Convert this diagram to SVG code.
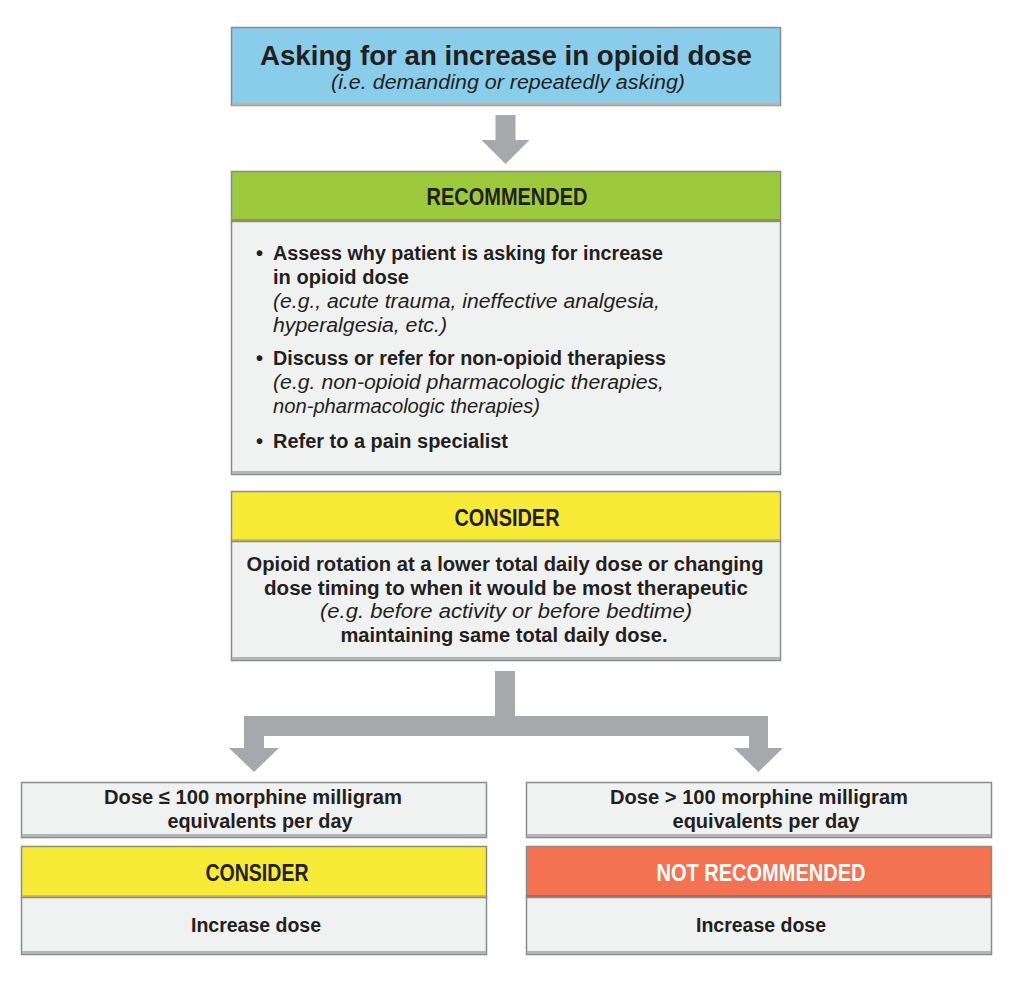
<svg xmlns="http://www.w3.org/2000/svg" width="1024" height="987" viewBox="0 0 1024 987">
<style>
.box{stroke:#8a8b8d;stroke-width:1.5}
.body{fill:#f0f1f1}
.sh{stroke:#b3b4b6;stroke-width:3}
.t{font-family:"Liberation Sans",Arial,Helvetica,sans-serif;fill:#231f20}
.b{font-weight:bold;font-size:20px}
.i{font-style:italic;font-size:19.5px}
.h{font-family:"Liberation Sans Narrow","Liberation Sans",Arial,sans-serif;font-weight:bold;font-size:24px}
.c{text-anchor:middle}
.conn{fill:#a7a8ab}
</style>
<rect width="1024" height="987" fill="#ffffff"/>
<g id="connectors">
<polygon class="conn" points="495.5,115 515.5,115 515.5,140 529.5,140 505.5,164 481.5,140 495.5,140"/>
<polygon class="conn" points="495,671 515,671 515,716 768,716 768,748 783,748 758.5,772 734,748 749,748 749,736 264,736 264,748 279,748 254,772 229,748 244,748 244,716 495,716"/>
</g>
<g id="start">
<rect class="box" x="231.5" y="27.5" width="549" height="78" fill="#89cdeb"/>
<line class="sh" x1="232" y1="104" x2="780" y2="104" stroke="#7aa9bf"/>
<text class="t c" x="506" y="65" font-weight="bold" font-size="27.5" textLength="492" lengthAdjust="spacingAndGlyphs">Asking for an increase in opioid dose</text>
<text class="t c i" x="508" y="88.5" textLength="354" lengthAdjust="spacingAndGlyphs">(i.e. demanding or repeatedly asking)</text>
</g>
<g id="recommended">
<rect class="box" x="231.5" y="171.5" width="549" height="50" fill="#9dca3c"/>
<line x1="232" y1="220" x2="780" y2="220" stroke="#7fa32f" stroke-width="2"/>
<text class="t h c" x="507" y="205" textLength="161" lengthAdjust="spacingAndGlyphs">RECOMMENDED</text>
<rect class="box body" x="231.5" y="221.5" width="549" height="253"/>
<line class="sh" x1="232" y1="472.5" x2="780" y2="472.5"/>
<text class="t b" x="256" y="259.5">•</text>
<text class="t b" x="273" y="259.5" textLength="390" lengthAdjust="spacingAndGlyphs">Assess why patient is asking for increase</text>
<text class="t b" x="273" y="283.5" textLength="136" lengthAdjust="spacingAndGlyphs">in opioid dose</text>
<text class="t i" x="273" y="307.5" textLength="387" lengthAdjust="spacingAndGlyphs">(e.g., acute trauma, ineffective analgesia,</text>
<text class="t i" x="273" y="331.5" textLength="174" lengthAdjust="spacingAndGlyphs">hyperalgesia, etc.)</text>
<text class="t b" x="256" y="365">•</text>
<text class="t b" x="273" y="365" textLength="393" lengthAdjust="spacingAndGlyphs">Discuss or refer for non-opioid therapiess</text>
<text class="t i" x="273" y="389" textLength="391" lengthAdjust="spacingAndGlyphs">(e.g. non-opioid pharmacologic therapies,</text>
<text class="t i" x="273" y="413" textLength="267" lengthAdjust="spacingAndGlyphs">non-pharmacologic therapies)</text>
<text class="t b" x="256" y="447.5">•</text>
<text class="t b" x="273" y="447.5" textLength="235" lengthAdjust="spacingAndGlyphs">Refer to a pain specialist</text>
</g>
<g id="consider-main">
<rect class="box" x="231.5" y="491.5" width="549" height="50" fill="#f7eb38"/>
<line x1="232" y1="540" x2="780" y2="540" stroke="#cfc22c" stroke-width="2"/>
<text class="t h c" x="507" y="526" textLength="105" lengthAdjust="spacingAndGlyphs">CONSIDER</text>
<rect class="box body" x="231.5" y="541.5" width="549" height="119"/>
<line class="sh" x1="232" y1="658.5" x2="780" y2="658.5"/>
<text class="t b c" x="505" y="571" textLength="517" lengthAdjust="spacingAndGlyphs">Opioid rotation at a lower total daily dose or changing</text>
<text class="t b c" x="506" y="595" textLength="484" lengthAdjust="spacingAndGlyphs">dose timing to when it would be most therapeutic</text>
<text class="t i c" x="506" y="618" textLength="372" lengthAdjust="spacingAndGlyphs">(e.g. before activity or before bedtime)</text>
<text class="t b c" x="504" y="642" textLength="327" lengthAdjust="spacingAndGlyphs">maintaining same total daily dose.</text>
</g>
<g id="low-dose">
<rect class="box body" x="21.5" y="782.5" width="465" height="55"/>
<line class="sh" x1="22" y1="835.5" x2="486" y2="835.5"/>
<text class="t b c" x="253" y="804" textLength="298" lengthAdjust="spacingAndGlyphs">Dose ≤ 100 morphine milligram</text>
<text class="t b c" x="260" y="828" textLength="185" lengthAdjust="spacingAndGlyphs">equivalents per day</text>
</g>
<g id="low-consider">
<rect class="box" x="21.5" y="846.5" width="465" height="51" fill="#f7eb38"/>
<line x1="22" y1="896" x2="486" y2="896" stroke="#cfc22c" stroke-width="2"/>
<text class="t h c" x="257" y="881" textLength="103" lengthAdjust="spacingAndGlyphs">CONSIDER</text>
<rect class="box body" x="21.5" y="897.5" width="465" height="57"/>
<line class="sh" x1="22" y1="952.5" x2="486" y2="952.5"/>
<text class="t b c" x="256" y="932" textLength="130" lengthAdjust="spacingAndGlyphs">Increase dose</text>
</g>
<g id="high-dose">
<rect class="box body" x="526.5" y="782.5" width="465" height="55"/>
<line class="sh" x1="527" y1="835.5" x2="991" y2="835.5"/>
<text class="t b c" x="759" y="804" textLength="298" lengthAdjust="spacingAndGlyphs">Dose &gt; 100 morphine milligram</text>
<text class="t b c" x="766" y="828" textLength="187" lengthAdjust="spacingAndGlyphs">equivalents per day</text>
</g>
<g id="high-not-recommended">
<rect class="box" x="526.5" y="846.5" width="465" height="51" fill="#f27252"/>
<line x1="527" y1="896" x2="991" y2="896" stroke="#c85a42" stroke-width="2"/>
<text class="h c" x="761" y="881" fill="#ffffff" textLength="209" lengthAdjust="spacingAndGlyphs">NOT RECOMMENDED</text>
<rect class="box body" x="526.5" y="897.5" width="465" height="57"/>
<line class="sh" x1="527" y1="952.5" x2="991" y2="952.5"/>
<text class="t b c" x="761" y="932" textLength="130" lengthAdjust="spacingAndGlyphs">Increase dose</text>
</g>
</svg>
